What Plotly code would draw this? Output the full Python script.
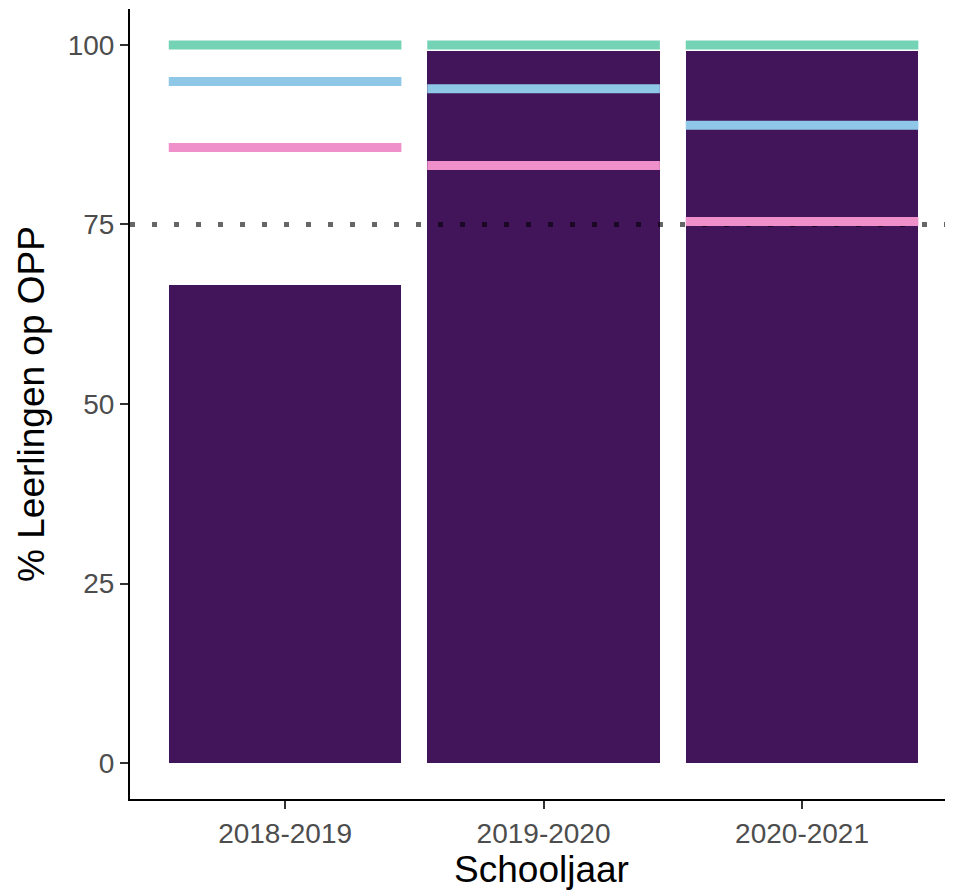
import plotly.graph_objects as go

# ---- data ----
years = ["2018-2019", "2019-2020", "2020-2021"]
bar_values = [66.6, 99.2, 99.2]
green_values = [100.0, 100.0, 100.0]
blue_values = [94.9, 93.9, 88.8]
pink_values = [85.7, 83.2, 75.4]
threshold = 75
y_ticks = [0, 25, 50, 75, 100]

# ---- styles ----
BAR_COLOR = "#42155A"
GREEN = "#74D3B4"
BLUE = "#8EC8E6"
PINK = "#EF90CB"
BAR_WIDTH = 0.9
x_range = [-0.6, 2.584]
y_range = [-5, 105]

fig = go.Figure()
idx = list(range(len(years)))

fig.add_trace(go.Bar(
    x=idx, y=bar_values, width=BAR_WIDTH,
    marker=dict(color=BAR_COLOR, line=dict(width=0)),
    showlegend=False, hoverinfo="skip",
))

# dotted threshold line across the full panel
fig.add_trace(go.Scatter(
    x=x_range, y=[threshold, threshold], mode="lines",
    line=dict(color="rgba(0,0,0,0.6)", width=5, dash="5px,17px"),
    showlegend=False, hoverinfo="skip",
))

def add_segments(values, color):
    xs, ys = [], []
    for i, v in zip(idx, values):
        xs += [i - BAR_WIDTH / 2, i + BAR_WIDTH / 2, None]
        ys += [v, v, None]
    fig.add_trace(go.Scatter(
        x=xs, y=ys, mode="lines",
        line=dict(color=color, width=9),
        showlegend=False, hoverinfo="skip",
    ))

add_segments(green_values, GREEN)
add_segments(blue_values, BLUE)
add_segments(pink_values, PINK)

fig.update_layout(
    width=945, height=884,
    margin=dict(l=122, r=0, t=1, b=93),
    plot_bgcolor="white", paper_bgcolor="white",
    font=dict(family="Liberation Sans, Arial, sans-serif"),
    bargap=0,
)
fig.update_xaxes(
    range=x_range, tickmode="array", tickvals=idx, ticktext=years,
    showgrid=False, zeroline=False,
    showline=True, linecolor="black", linewidth=2,
    ticks="outside", ticklen=8, tickwidth=2, tickcolor="#333333",
    tickfont=dict(size=28, color="#4D4D4D"),
    title=dict(text="Schooljaar", font=dict(size=37, color="black"), standoff=0),
)
fig.update_yaxes(
    range=y_range, tickmode="array", tickvals=y_ticks,
    ticktext=[str(t) for t in y_ticks],
    showgrid=False, zeroline=False,
    showline=True, linecolor="black", linewidth=2,
    ticks="outside", ticklen=8, tickwidth=2, tickcolor="#333333",
    tickfont=dict(size=28, color="#4D4D4D"),
    title=dict(text="% Leerlingen op OPP", font=dict(size=37, color="black"), standoff=12),
)

fig.write_html("out.html")
